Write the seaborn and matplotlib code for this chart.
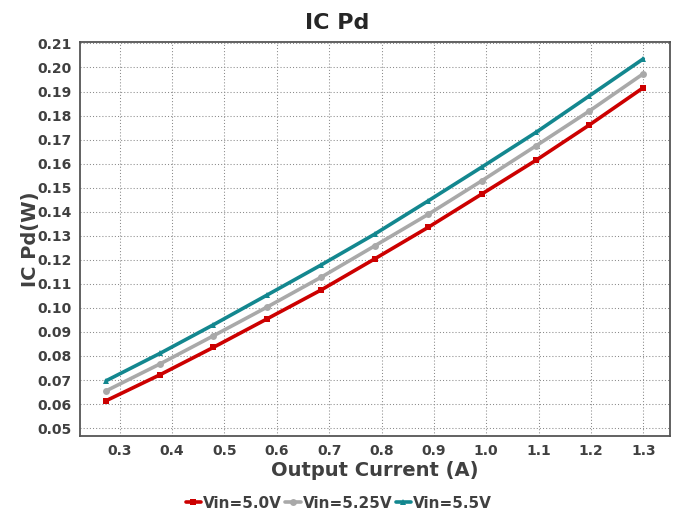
import matplotlib
matplotlib.use("Agg")
import matplotlib.pyplot as plt
import seaborn as sns
import pandas as pd
from matplotlib.ticker import MultipleLocator, FormatStrFormatter

current = [0.274, 0.377, 0.479, 0.581, 0.685, 0.787, 0.889, 0.991, 1.095, 1.197, 1.3]
pd_vin50 = [0.0614, 0.0722, 0.0836, 0.0954, 0.1075, 0.1204, 0.1335, 0.1473, 0.1614, 0.1761, 0.1916]
pd_vin525 = [0.0655, 0.0767, 0.0884, 0.1003, 0.1128, 0.1258, 0.1389, 0.1528, 0.1674, 0.1819, 0.1974]
pd_vin55 = [0.0697, 0.0811, 0.0930, 0.1053, 0.1179, 0.1307, 0.1445, 0.1585, 0.1730, 0.1882, 0.2036]
series_names = ["Vin=5.0V", "Vin=5.25V", "Vin=5.5V"]
colors = ["#CC0000", "#A9A9A9", "#13878F"]
markers = ["s", "o", "^"]

sns.set_style("white")
plt.rcParams['font.family'] = ['DejaVu Sans']

frames = []
for name, vals in zip(series_names, [pd_vin50, pd_vin525, pd_vin55]):
    frames.append(pd.DataFrame({"x": current, "y": vals, "series": name}))
df = pd.concat(frames, ignore_index=True)

fig = plt.figure(figsize=(6.75, 5.16), dpi=100)
ax = fig.add_axes([0.1185, 0.155, 0.8741, 0.7636])

sns.lineplot(data=df, x="x", y="y", hue="series", style="series",
             hue_order=series_names, style_order=series_names,
             palette=dict(zip(series_names, colors)),
             markers=dict(zip(series_names, markers)), dashes=False,
             linewidth=2.6, markersize=5, markeredgewidth=0, ax=ax)

ax.set_xlim(0.224, 1.351)
ax.set_ylim(0.0467, 0.2106)
ax.xaxis.set_major_locator(MultipleLocator(0.1))
ax.yaxis.set_major_locator(MultipleLocator(0.01))
ax.xaxis.set_major_formatter(FormatStrFormatter('%.1f'))
ax.yaxis.set_major_formatter(FormatStrFormatter('%.2f'))
ax.grid(True, linestyle=(0, (1, 2)), color="#8a8a8a", linewidth=0.75)
ax.tick_params(axis='both', length=0, pad=6, labelsize=10, labelcolor="#404040")
for lbl in ax.get_xticklabels() + ax.get_yticklabels():
    lbl.set_fontweight("bold")
for sp in ax.spines.values():
    sp.set_color("#555555")
    sp.set_linewidth(1.3)

ax.set_xlabel("Output Current (A)", fontsize=14, fontweight="bold", color="#404040", labelpad=2)
ax.set_ylabel("IC Pd(W)", fontsize=14, fontweight="bold", color="#404040", labelpad=-2)
fig.suptitle("IC Pd", fontsize=16, fontweight="bold", x=0.5, y=0.975)

ax.get_legend().remove()
handles, labels = ax.get_legend_handles_labels()
leg = fig.legend(handles, labels, loc="center", bbox_to_anchor=(0.502, 0.025), ncol=3, frameon=False,
                 handlelength=1.0, handletextpad=0.15, columnspacing=0.2,
                 prop={"weight": "bold", "size": 11})
for t in leg.get_texts():
    t.set_color("#404040")

fig.savefig("out.png", dpi=100)
